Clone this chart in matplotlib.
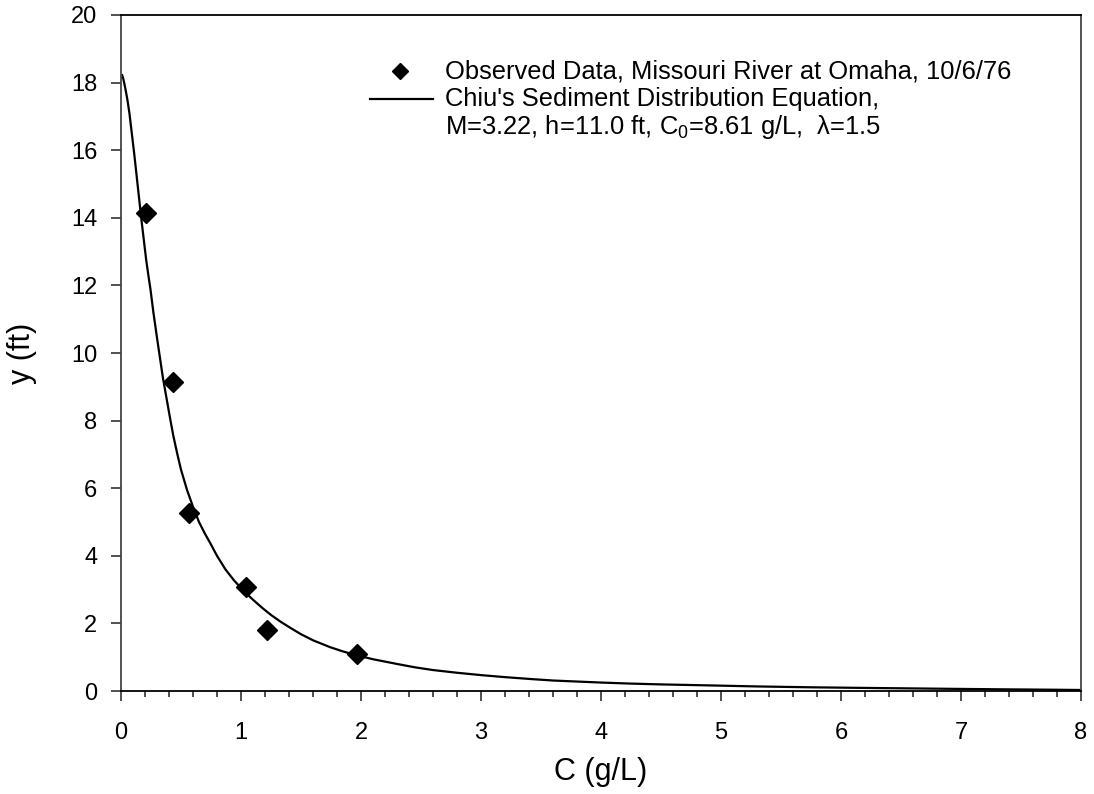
import matplotlib
matplotlib.use("Agg")
import matplotlib.pyplot as plt
from matplotlib.ticker import MultipleLocator
from matplotlib.lines import Line2D

plt.rcParams['font.family'] = ['Liberation Sans', 'DejaVu Sans']
plt.rcParams['mathtext.fontset'] = 'custom'
plt.rcParams['mathtext.rm'] = 'Liberation Sans'

# Observed data
obs_c = [0.21, 0.43, 0.567, 1.04, 1.22, 1.97]
obs_y = [14.15, 9.15, 5.27, 3.08, 1.80, 1.10]

curve_c = [0.01, 0.02, 0.035, 0.053, 0.07, 0.09, 0.11, 0.13, 0.15, 0.17, 0.19,
           0.21, 0.23, 0.245, 0.27, 0.30, 0.325, 0.35, 0.38, 0.41, 0.436, 0.47,
           0.50, 0.55, 0.60, 0.65, 0.70, 0.74, 0.80, 0.87, 0.94, 1.02, 1.10,
           1.18, 1.25, 1.33, 1.42, 1.50, 1.60, 1.74, 1.85, 1.97, 2.1, 2.3,
           2.45, 2.6, 2.8, 3.0, 3.2, 3.41, 3.6, 3.8, 4.0, 4.24, 4.5, 4.91,
           5.3, 5.74, 6.1, 6.5, 6.9, 7.33, 7.7, 8.0]
curve_y = [18.22, 18.1, 17.85, 17.5, 17.1, 16.5, 15.9, 15.25, 14.6, 13.95, 13.35,
           12.75, 12.25, 11.9, 11.2, 10.45, 9.85, 9.25, 8.65, 8.05, 7.55, 7.0,
           6.55, 5.95, 5.45, 5.0, 4.65, 4.4, 4.0, 3.6, 3.28, 2.97, 2.7,
           2.45, 2.25, 2.05, 1.85, 1.68, 1.5, 1.3, 1.17, 1.05, 0.94, 0.80,
           0.70, 0.62, 0.54, 0.47, 0.41, 0.355, 0.31, 0.28, 0.25, 0.22, 0.195, 0.165,
           0.135, 0.11, 0.095, 0.08, 0.065, 0.05, 0.04, 0.03]

x_ticks = [0, 1, 2, 3, 4, 5, 6, 7, 8]
y_ticks = [0, 2, 4, 6, 8, 10, 12, 14, 16, 18, 20]

legend_obs = "Observed Data, Missouri River at Omaha, 10/6/76"
legend_eq1 = "Chiu's Sediment Distribution Equation,"
legend_eq2 = "M=3.22, h=11.0 ft, C$_0$=8.61 g/L,  \u03bb=1.5"

fig = plt.figure(figsize=(10.94, 7.94), dpi=100)
ax = fig.add_axes([121/1094, 1-691/794, 960/1094, 676/794])

ax.plot(curve_c, curve_y, color='black', lw=1.6, zorder=2)
ax.plot(obs_c, obs_y, linestyle='none', marker='D', markersize=10,
        color='black', zorder=3, clip_on=False)

ax.set_xlim(0, 8)
ax.set_ylim(0, 20)
ax.set_xticks(x_ticks)
ax.set_yticks(y_ticks)
ax.xaxis.set_minor_locator(MultipleLocator(0.2))
ax.tick_params(axis='x', which='major', direction='out', length=7, width=1.2,
               labelsize=17, pad=15, color='#333333')
ax.tick_params(axis='x', which='minor', direction='out', length=4.5, width=1.2,
               color='#333333')
ax.tick_params(axis='y', which='major', direction='out', length=7, width=1.2,
               labelsize=17, pad=10, color='#333333')
ax.tick_params(axis='y', which='minor', left=False)

for side in ['left', 'right']:
    ax.spines[side].set_color('#444444')
    ax.spines[side].set_linewidth(1.3)
for side in ['top', 'bottom']:
    ax.spines[side].set_color('black')
    ax.spines[side].set_linewidth(1.3)

ax.set_xlabel('C (g/L)', fontsize=22)
ax.set_ylabel('y (ft)', fontsize=22)
ax.xaxis.set_label_coords(0.5, -0.097)
ax.yaxis.set_label_coords(-0.087, 0.5)

# legend drawn manually
fs = 18.4
ax.add_line(Line2D([0.2906], [0.917], marker='D', markersize=8, color='black',
                   linestyle='none', transform=ax.transAxes))
ax.text(0.3375, 0.917, legend_obs, transform=ax.transAxes, fontsize=fs,
        va='center', ha='left')
ax.add_line(Line2D([0.259, 0.325], [0.8757, 0.8757], color='black', lw=1.6,
                   transform=ax.transAxes))
ax.text(0.3375, 0.8757, legend_eq1, transform=ax.transAxes, fontsize=fs,
        va='center', ha='left')
ax.text(0.3375, 0.834, legend_eq2, transform=ax.transAxes, fontsize=fs,
        va='center', ha='left')

fig.savefig('out.png', dpi=100)
